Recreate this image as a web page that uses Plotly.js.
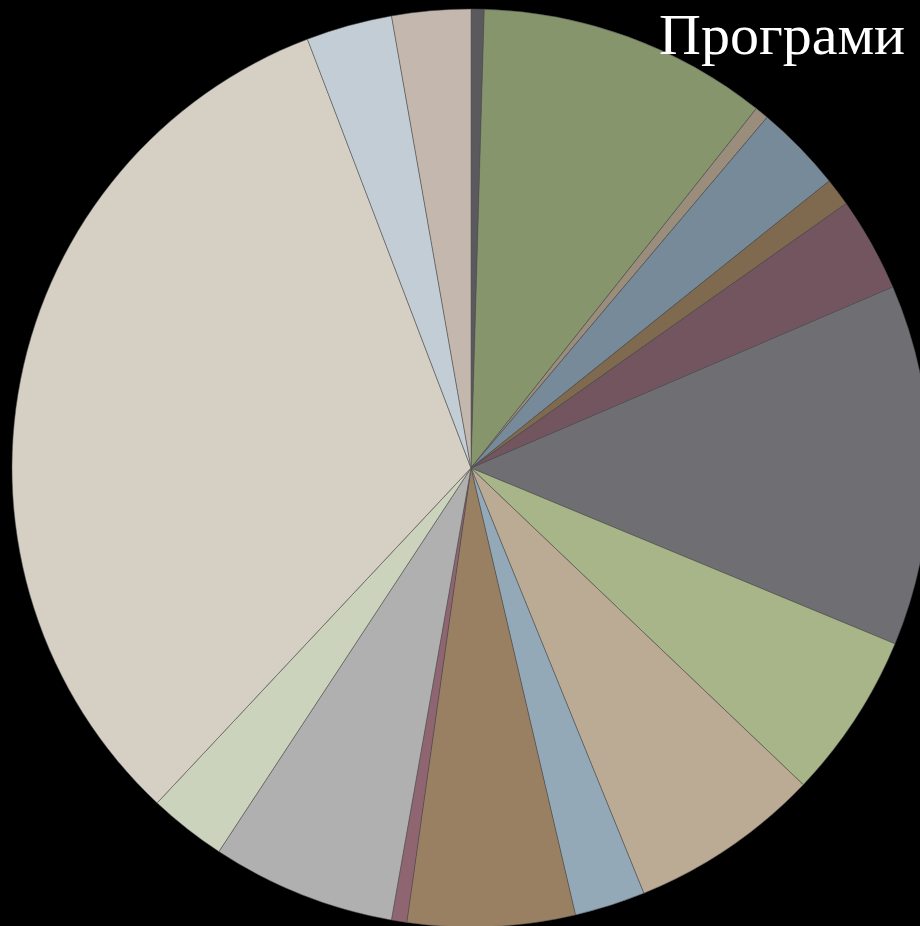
<!DOCTYPE html>
<html>
<head>
<meta charset="utf-8">
<script src="https://cdn.plot.ly/plotly-3.0.1.min.js"></script>
<style>
html,body{margin:0;padding:0;background:#000;overflow:hidden;width:920px;height:926px;}
#chart{width:940px;height:930px;}
</style>
</head>
<body>
<div id="chart"></div>
<script>
const categories = ["Програма 1","Програма 2","Програма 3","Програма 4","Програма 5","Програма 6","Програма 7","Програма 8","Програма 9","Програма 10","Програма 11","Програма 12","Програма 13","Програма 14","Програма 15","Програма 16","Програма 17"];
const values = [0.46,10.22,0.48,3.09,0.98,3.32,12.71,5.86,6.74,2.49,5.89,0.54,6.48,2.73,32.22,3.03,2.77];
const colors = ["#5A595E","#87956D","#9A8D7C","#778A99","#7F6A50","#735560","#6F6E73","#A7B589","#BCAB94","#93A9B8","#9A8063","#8E6571","#B0B0B0","#CCD3BC","#D6CFC4","#C3CDD5","#C4B8AE"];
const titleText = "Програми";

Plotly.newPlot("chart", [{
  type: "pie",
  labels: categories,
  values: values,
  sort: false,
  direction: "clockwise",
  rotation: 0,
  textinfo: "none",
  hoverinfo: "label+percent",
  marker: {colors: colors, line: {color: "#505050", width: 0.5}},
  showlegend: false
}], {
  width: 940, height: 930,
  margin: {l: 11, r: 9, t: 9, b: 3},
  paper_bgcolor: "#000", plot_bgcolor: "#000",
  showlegend: false,
  annotations: [{
    text: titleText, xref: "paper", yref: "paper",
    x: (907-11)/920, y: 1.0, xanchor: "right", yanchor: "top",
    yshift: 9,
    showarrow: false,
    font: {family: "Liberation Serif, DejaVu Serif, serif", size: 58, color: "#ffffff"}
  }]
}, {displayModeBar: false, staticPlot: true});
</script>
</body>
</html>
